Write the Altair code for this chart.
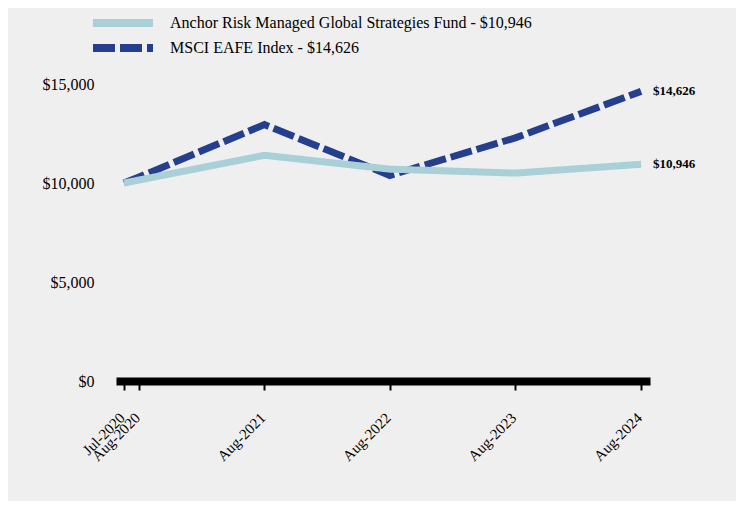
import altair as alt
import pandas as pd

dates = ["2020-07-18", "2020-08-31", "2021-08-31", "2022-08-31", "2023-08-31", "2024-08-31"]
fund = [10000, 10150, 11400, 10700, 10500, 10946]
msci = [10000, 10300, 12950, 10380, 12280, 14626]
fund_name = "Anchor Risk Managed Global Strategies Fund - $10,946"
msci_name = "MSCI EAFE Index - $14,626"
end_labels = ["$10,946", "$14,626"]

rows = []
for d, f, m in zip(dates, fund, msci):
    rows.append({"date": d, "value": f, "series": fund_name})
    rows.append({"date": d, "value": m, "series": msci_name})
df = pd.DataFrame(rows)
end_df = pd.DataFrame({"date": [dates[-1], dates[-1]], "value": [fund[-1], msci[-1]],
                       "label": end_labels})

FONT = "Liberation Serif"
tick_vals = [alt.DateTime(year=2020, month=7, date=18, utc=True)] + [
    alt.DateTime(year=y, month=8, date=31, utc=True) for y in range(2020, 2025)]

xscale = alt.Scale(type="utc", domain=[alt.DateTime(year=2020, month=6, date=25, utc=True),
                                        alt.DateTime(year=2024, month=9, date=26, utc=True)])
yscale = alt.Scale(domain=[0, 15000], nice=False)

x_enc = alt.X("date:T", scale=xscale, title=None,
              axis=alt.Axis(values=tick_vals, format="%b-%Y", labelAngle=-45, labelFont=FONT,
                            labelFontSize=15, labelColor="#000", domainColor="#000", domainWidth=8,
                            tickColor="#000", tickWidth=2, tickSize=9, labelPadding=20, labelOffset=-7,
                            grid=False, labelOverlap=False, labelBound=False, labelFlush=False))
y_enc = alt.Y("value:Q", scale=yscale, title=None,
              axis=alt.Axis(values=[0, 5000, 10000, 15000], format="$,.0f", domain=False, ticks=False,
                            grid=False, labelFont=FONT, labelFontSize=16, labelColor="#000",
                            labelPadding=22))
color_enc = alt.Color("series:N", sort=[fund_name, msci_name],
                      scale=alt.Scale(domain=[fund_name, msci_name], range=["#a8d0d6", "#253f8e"]),
                      legend=alt.Legend(title=None, orient="none", legendX=-27, legendY=-70,
                                        symbolType="M-1,0H11", symbolSize=100, symbolStrokeWidth=8,
                                        labelFont=FONT, labelFontSize=16, labelColor="#000",
                                        labelOffset=63, rowPadding=-7, labelLimit=600))
dash_enc = alt.StrokeDash("series:N", sort=[fund_name, msci_name],
                          scale=alt.Scale(domain=[fund_name, msci_name], range=[[1, 0], [22, 5]]),
                          legend=None)

base = alt.Chart(df).mark_line(strokeWidth=7, strokeCap="butt").encode(
    x=x_enc, y=y_enc, color=color_enc, strokeDash=dash_enc)

msci_line = base.transform_filter(alt.datum.series == msci_name)
fund_line = base.transform_filter(alt.datum.series == fund_name)

labels = alt.Chart(end_df).mark_text(align="left", dx=12, font=FONT, fontSize=13,
                                      fontWeight="bold", color="#000").encode(
    x=alt.X("date:T", scale=xscale), y=alt.Y("value:Q", scale=yscale), text="label:N")

chart = alt.layer(msci_line, fund_line, labels).properties(
    width=534, height=297,
    autosize=alt.AutoSizeParams(type="none"),
    padding={"left": 108, "top": 76, "right": 86, "bottom": 120},
    background="#efefef",
).configure_view(stroke=None)

chart.save("out.html", embed_options={"renderer": "svg", "actions": False})
